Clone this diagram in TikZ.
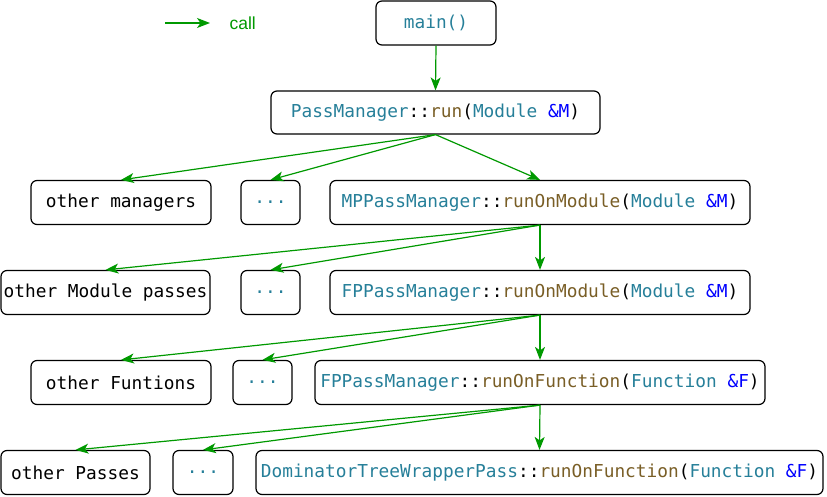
\documentclass[tikz,border=0pt]{standalone}
\usepackage{fontspec}
\setmainfont{Liberation Sans}
\setmonofont{DejaVu Sans Mono}
\usetikzlibrary{arrows.meta}
\definecolor{tycol}{HTML}{267F99}
\definecolor{fncol}{HTML}{795E26}
\definecolor{kwcol}{HTML}{0000FF}
\definecolor{callgreen}{HTML}{009900}
\newcommand{\ty}[1]{\textcolor{tycol}{#1}}
\newcommand{\fn}[1]{\textcolor{fncol}{#1}}
\newcommand{\kw}[1]{\textcolor{kwcol}{#1}}
\tikzset{
  box/.style={draw=black, rounded corners=6, line width=1.2, minimum height=44, inner sep=0,
    font=\ttfamily\fontsize{17.8}{20}\selectfont},
  call/.style={draw=callgreen, line width=1.2, -{Stealth[length=13,width=10,inset=3.5]}}
}
\begin{document}
\begin{tikzpicture}[x=1pt,y=-1pt]
\useasboundingbox (0,0) rectangle (827,497);
% legend
\coordinate (la) at (165,23);
\coordinate (lb) at (210,23);
\draw[call] (la) -- (lb);
\node[text=callgreen, font=\fontsize{17.5}{20}\selectfont, anchor=west] (lt) at (226,23) {call};
% nodes
\node[box, minimum width=120] (main) at (436,23) {\ty{main()}};
\node[box, minimum width=329, minimum height=43] (pm) at (435.5,112.5) {\ty{PassManager}::\fn{run}(\ty{Module} \kw{\&M})};
\node[box, minimum width=180] (om) at (121,202.5) {other managers};
\node[box, minimum width=59] (d1) at (270.5,202.5) {\ty{...}};
\node[box, minimum width=420] (mp) at (540,202.5) {\ty{MPPassManager}::\fn{runOnModule}(\ty{Module} \kw{\&M})};
\node[box, minimum width=209] (omp) at (105.5,292.5) {other Module passes};
\node[box, minimum width=59] (d2) at (270.5,292.5) {\ty{...}};
\node[box, minimum width=420] (fp) at (540,292.5) {\ty{FPPassManager}::\fn{runOnModule}(\ty{Module} \kw{\&M})};
\node[box, minimum width=180] (of) at (121,382.5) {other Funtions};
\node[box, minimum width=59] (d3) at (262.5,382.5) {\ty{...}};
\node[box, minimum width=450] (fpf) at (540,382.5) {\ty{FPPassManager}::\fn{runOnFunction}(\ty{Function} \kw{\&F})};
\node[box, minimum width=149] (op) at (75.5,472.5) {other Passes};
\node[box, minimum width=60] (d4) at (203,472.5) {\ty{...}};
\node[box, minimum width=567] (dom) at (539.5,472.5) {\ty{DominatorTreeWrapperPass}::\fn{runOnFunction}(\ty{Function} \kw{\&F})};
% connectors
\draw[call] (main.south) -- (pm.north);
\draw[call] (pm.south) -- (om.north);
\draw[call] (pm.south) -- (d1.north);
\draw[call] (pm.south) -- (mp.north);
\draw[call] (mp.south) -- (omp.north);
\draw[call] (mp.south) -- (d2.north);
\draw[call] (mp.south) -- (fp.north);
\draw[call] (fp.south) -- (of.north);
\draw[call] (fp.south) -- (d3.north);
\draw[call] (fp.south) -- (fpf.north);
\draw[call] (fpf.south) -- (op.north);
\draw[call] (fpf.south) -- (d4.north);
\draw[call] (fpf.south) -- (dom.north);
\end{tikzpicture}
\end{document}
